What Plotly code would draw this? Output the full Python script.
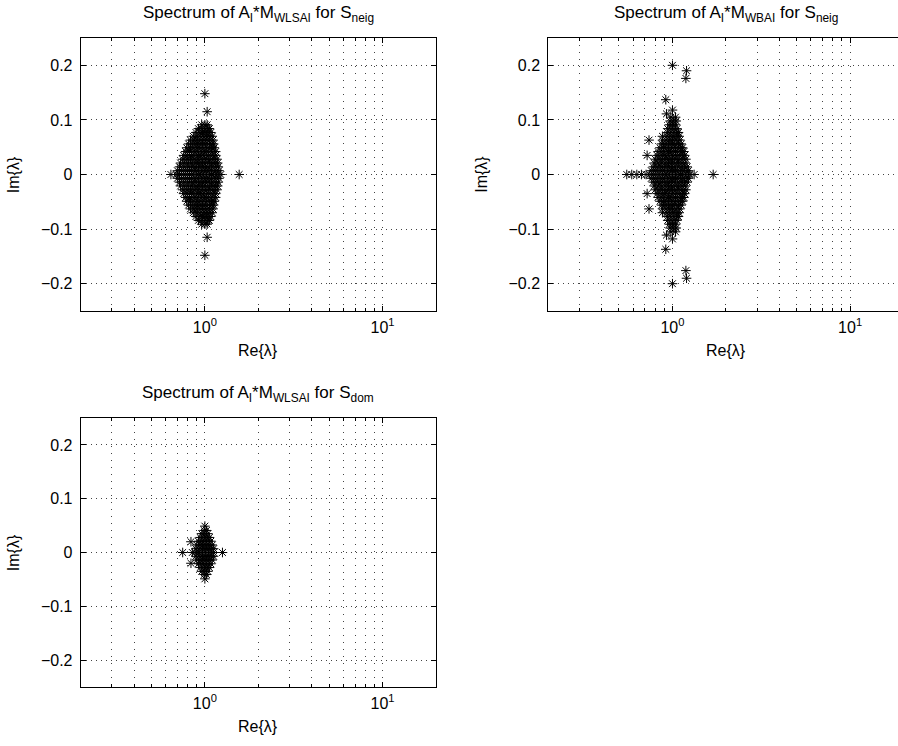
import math
import plotly.graph_objects as go

# Eigenvalues with Im >= 0, grouped in rows that share one imaginary part.
# The matrices are real, so every complex eigenvalue also has its conjugate.

# A_I*M_WLSAI, S_neig
WLSAI_NEIG_IM = [0.0, 0.007, 0.014, 0.021, 0.028, 0.035, 0.042, 0.049,
                 0.056, 0.063, 0.070, 0.077, 0.084, 0.091, 0.115, 0.148]
WLSAI_NEIG_RE = [
    [0.644, 0.69, 0.72, 0.76, 0.80, 0.84, 0.88, 0.92, 0.96, 1.00, 1.04, 1.09, 1.14, 1.18, 1.23, 1.56],
    [0.70, 0.74, 0.78, 0.82, 0.86, 0.90, 0.94, 0.98, 1.02, 1.06, 1.11, 1.16, 1.20],
    [0.72, 0.76, 0.80, 0.84, 0.88, 0.92, 0.96, 1.00, 1.04, 1.09, 1.14, 1.19],
    [0.73, 0.77, 0.81, 0.85, 0.89, 0.93, 0.97, 1.01, 1.06, 1.11, 1.15, 1.18],
    [0.75, 0.79, 0.83, 0.87, 0.91, 0.95, 0.99, 1.03, 1.08, 1.13, 1.17],
    [0.76, 0.80, 0.84, 0.88, 0.92, 0.96, 1.00, 1.05, 1.10, 1.15],
    [0.78, 0.82, 0.86, 0.90, 0.94, 0.98, 1.02, 1.07, 1.11, 1.15],
    [0.79, 0.83, 0.87, 0.91, 0.95, 0.99, 1.04, 1.09, 1.13],
    [0.81, 0.85, 0.89, 0.93, 0.97, 1.01, 1.06, 1.10, 1.12],
    [0.83, 0.87, 0.91, 0.95, 0.99, 1.03, 1.07, 1.11],
    [0.86, 0.90, 0.94, 0.98, 1.02, 1.06, 1.10],
    [0.89, 0.93, 0.97, 1.01, 1.05, 1.08],
    [0.92, 0.96, 1.00, 1.04, 1.06],
    [0.96, 1.00, 1.03],
    [1.03],
    [1.00],
]

# A_I*M_WBAI, S_neig
WBAI_NEIG_IM = [0.0, 0.007, 0.014, 0.021, 0.028, 0.035, 0.042, 0.049, 0.056,
                0.063, 0.070, 0.077, 0.084, 0.091, 0.098, 0.105, 0.111, 0.118,
                0.137, 0.176, 0.190, 0.200]
WBAI_NEIG_RE = [
    [0.553, 0.59, 0.63, 0.67, 0.71, 0.745, 0.78, 0.82, 0.86, 0.90, 0.94, 0.98,
     1.02, 1.06, 1.11, 1.16, 1.21, 1.25, 1.324, 1.695],
    [0.76, 0.80, 0.84, 0.88, 0.92, 0.96, 1.00, 1.04, 1.09, 1.14, 1.19, 1.23],
    [0.78, 0.82, 0.86, 0.90, 0.94, 0.98, 1.02, 1.07, 1.12, 1.17, 1.21],
    [0.79, 0.83, 0.87, 0.91, 0.95, 0.99, 1.03, 1.08, 1.13, 1.18],
    [0.80, 0.84, 0.88, 0.92, 0.96, 1.00, 1.05, 1.10, 1.15, 1.19],
    [0.72, 0.82, 0.86, 0.90, 0.94, 0.98, 1.02, 1.07, 1.12, 1.17],
    [0.83, 0.87, 0.91, 0.95, 0.99, 1.04, 1.09, 1.14, 1.16],
    [0.85, 0.89, 0.93, 0.97, 1.01, 1.06, 1.11, 1.14],
    [0.87, 0.91, 0.95, 0.99, 1.03, 1.08, 1.12],
    [0.738, 0.88, 0.92, 0.96, 1.00, 1.05, 1.10],
    [0.878, 0.93, 0.97, 1.01, 1.06, 1.09],
    [0.94, 0.98, 1.02, 1.06, 1.08],
    [0.94, 0.98, 1.02, 1.06],
    [0.96, 1.00, 1.04],
    [0.97, 1.01, 1.05],
    [0.98, 1.04],
    [0.925],
    [1.00],
    [0.917],
    [1.19],
    [1.20],
    [1.00],
]

# A_I*M_WLSAI, S_dom
WLSAI_DOM_IM = [0.0, 0.007, 0.014, 0.020, 0.021, 0.028, 0.035, 0.041, 0.049]
WLSAI_DOM_RE = [
    [0.75, 0.85, 0.88, 0.92, 0.96, 1.00, 1.04, 1.08, 1.12, 1.256],
    [0.89, 0.93, 0.97, 1.01, 1.05, 1.09, 1.12],
    [0.90, 0.94, 0.98, 1.02, 1.06, 1.10],
    [0.835],
    [0.92, 0.96, 1.00, 1.04, 1.08],
    [0.94, 0.98, 1.02, 1.06],
    [0.96, 1.00, 1.04],
    [0.99, 1.02],
    [1.00],
]

PANEL_TITLES = [
    "Spectrum of A<sub>I</sub>*M<sub>WLSAI</sub> for S<sub>neig</sub>",
    "Spectrum of A<sub>I</sub>*M<sub>WBAI</sub> for S<sub>neig</sub>",
    "Spectrum of A<sub>I</sub>*M<sub>WLSAI</sub> for S<sub>dom</sub>",
]
X_LABEL = "Re{λ}"
Y_LABEL = "Im{λ}"
X_TICKS = [1, 10]
X_TICK_TEXT = ["10<sup>0</sup>", "10<sup>1</sup>"]
X_MINOR = [0.3, 0.4, 0.5, 0.6, 0.7, 0.8, 0.9, 2, 3, 4, 5, 6, 7, 8, 9]
Y_TICKS = [-0.2, -0.1, 0, 0.1, 0.2]
Y_TICK_TEXT = ["\u22120.2", "\u22120.1", "0", "0.1", "0.2"]
X_RANGE = [0.2, 20]
Y_RANGE = [-0.25, 0.25]


def spectrum(im_rows, re_rows):
    xs, ys = [], []
    for im, row in zip(im_rows, re_rows):
        for re in row:
            xs.append(re)
            ys.append(im)
            if im != 0:
                xs.append(re)
                ys.append(-im)
    return xs, ys


W, H = 898, 746
FONT = "Liberation Sans, Arial, Helvetica, sans-serif"
FS = 16
FS_TITLE = 17


def fx(p):
    return p / W


def fy(p):
    return 1 - p / H


# axis boxes in pixels: (left, top, right, bottom)
BOX1 = (80.7, 38, 436, 311)
BOX2 = (548.3, 38, 903.6, 311)
BOX3 = (80.7, 418, 436, 687)

XGRID = dict(showgrid=True, gridcolor="#444", gridwidth=1, griddash="1px,6px")
YGRID = dict(showgrid=True, gridcolor="#444", gridwidth=1, griddash="1px,4px")

fig = go.Figure()
star = dict(symbol="asterisk-open", size=8, color="black",
            line=dict(color="black", width=1))

for i, (im_rows, re_rows) in enumerate([(WLSAI_NEIG_IM, WLSAI_NEIG_RE),
                                         (WBAI_NEIG_IM, WBAI_NEIG_RE),
                                         (WLSAI_DOM_IM, WLSAI_DOM_RE)]):
    xs, ys = spectrum(im_rows, re_rows)
    sfx = "" if i == 0 else str(i + 1)
    fig.add_trace(go.Scatter(x=xs, y=ys, mode="markers", marker=star,
                             xaxis="x" + sfx, yaxis="y" + sfx,
                             showlegend=False, hoverinfo="skip"))

lo, hi = math.log10(X_RANGE[0]), math.log10(X_RANGE[1])
decade = (BOX1[2] - BOX1[0]) / (hi - lo)

for i, box in enumerate([BOX1, BOX2, BOX3]):
    left, top, right, bottom = box
    vis_right = min(right, W)
    xr = [lo, lo + (vis_right - left) / decade]
    sfx = "" if i == 0 else str(i + 1)
    xa = dict(
        type="log", range=xr, domain=[fx(left), fx(vis_right)],
        anchor="y" + sfx, tickmode="array", tickvals=X_TICKS, ticktext=X_TICK_TEXT,
        ticks="inside", ticklen=5, tickcolor="black", tickwidth=1,
        showline=True, linecolor="black", linewidth=1, mirror="ticks",
        zeroline=False, tickfont=dict(family=FONT, size=FS, color="black"),
        ticklabelstandoff=2,
        minor=dict(tickvals=X_MINOR, ticks="inside", ticklen=3, tickcolor="black",
                   **XGRID),
        **XGRID,
    )
    ya = dict(
        range=Y_RANGE, domain=[fy(bottom), fy(top)], anchor="x" + sfx,
        tickmode="array", tickvals=Y_TICKS, ticktext=Y_TICK_TEXT,
        ticks="inside", ticklen=5, tickcolor="black", tickwidth=1,
        showline=True, linecolor="black", linewidth=1,
        mirror="ticks" if right <= W else False,
        zeroline=False, tickfont=dict(family=FONT, size=FS, color="black"),
        ticklabelstandoff=4,
        **YGRID,
    )
    fig.update_layout(**{"xaxis" + sfx: xa, "yaxis" + sfx: ya})

    cx = (left + right) / 2
    fig.add_annotation(text=PANEL_TITLES[i], x=fx(cx), y=fy(top - 11),
                       xref="paper", yref="paper", xanchor="center", yanchor="bottom",
                       showarrow=False,
                       font=dict(family=FONT, size=FS_TITLE, color="black"))
    fig.add_annotation(text=X_LABEL, x=fx(cx), y=fy(bottom + 39),
                       xref="paper", yref="paper", xanchor="center", yanchor="middle",
                       showarrow=False, font=dict(family=FONT, size=FS, color="black"))
    fig.add_annotation(text=Y_LABEL, x=fx(left - 67), y=fy((top + bottom) / 2),
                       xref="paper", yref="paper", xanchor="center", yanchor="middle",
                       textangle=-90, showarrow=False,
                       font=dict(family=FONT, size=FS, color="black"))

fig.update_layout(
    width=W, height=H, margin=dict(l=0, r=0, t=0, b=0),
    paper_bgcolor="white", plot_bgcolor="white",
    showlegend=False,
)

fig.write_html("out.html")
